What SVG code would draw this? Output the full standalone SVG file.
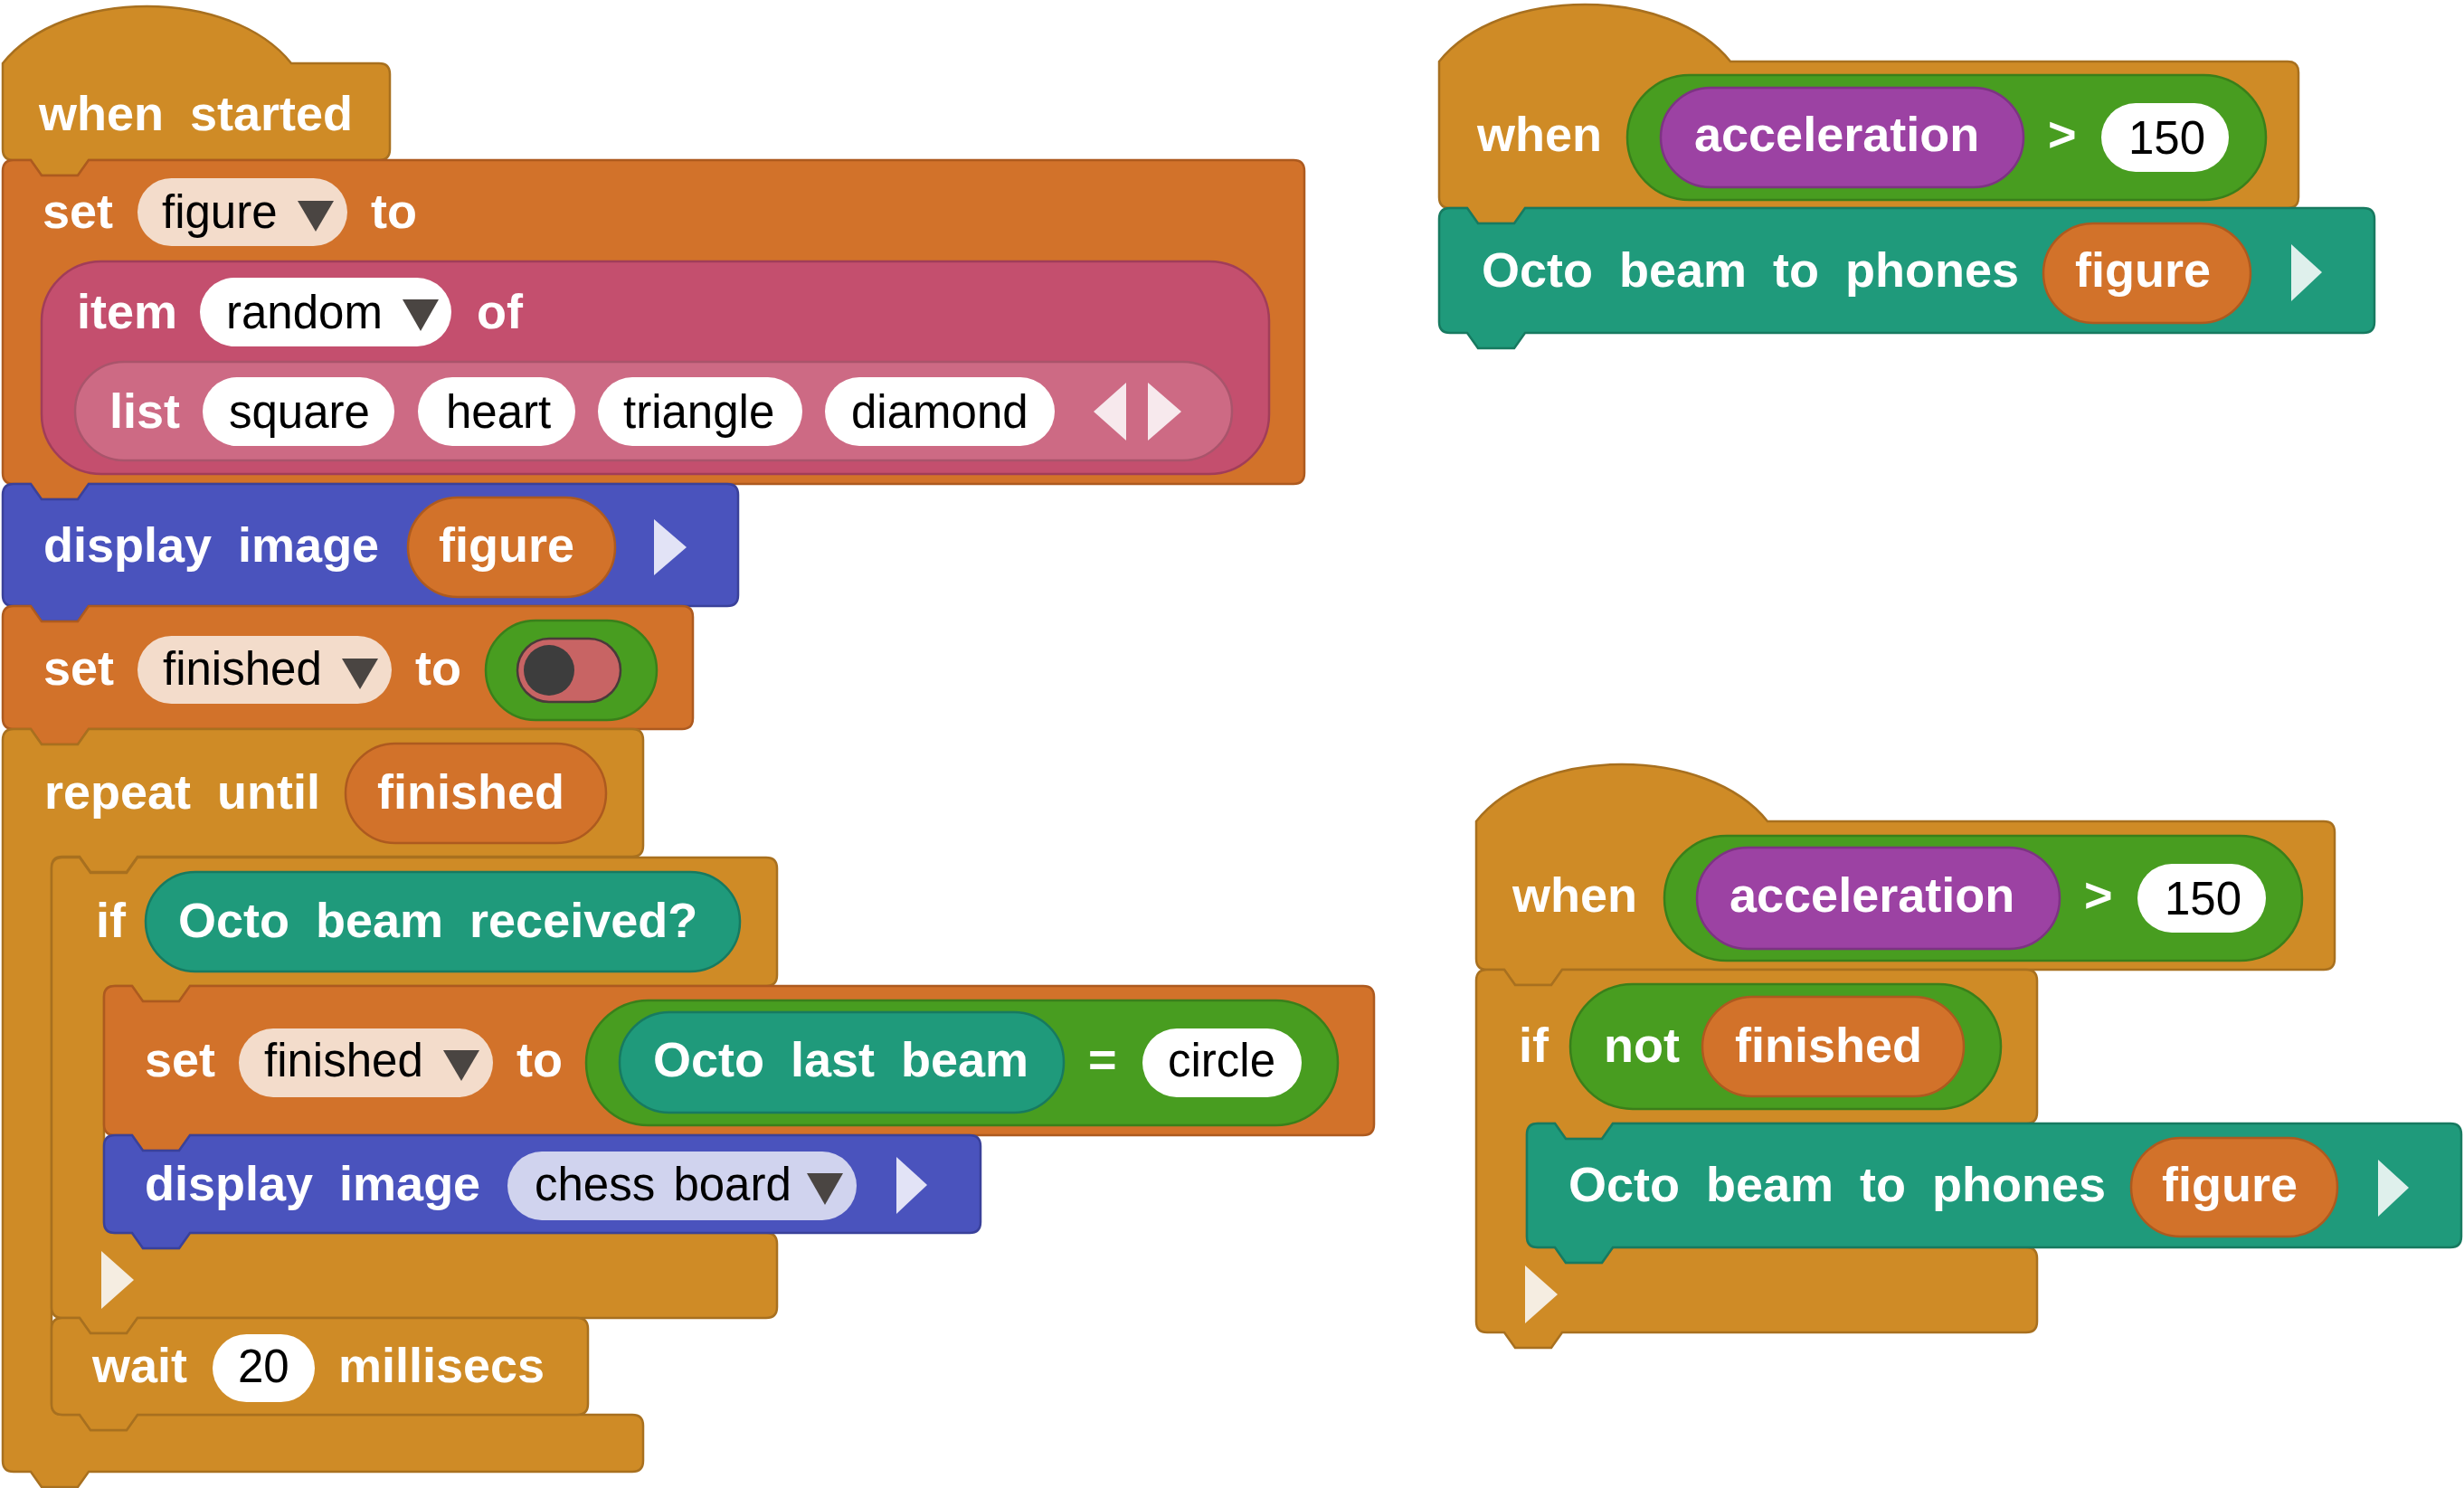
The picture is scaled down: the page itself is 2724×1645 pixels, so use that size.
<svg xmlns="http://www.w3.org/2000/svg" width="2724" height="1645" viewBox="0 0 2724 1645">
<style>
.gold{fill:#CF8B26;stroke:#A8701F;stroke-width:2.5}
.orange{fill:#D2722A;stroke:#AD5A1F;stroke-width:2.5}
.blue{fill:#4A53BD;stroke:#3A419A;stroke-width:2.5}
.teal{fill:#1F9A7B;stroke:#177A60;stroke-width:2.5}
.green{fill:#489D20;stroke:#3A7F1A;stroke-width:2.5}
.purple{fill:#9C42A3;stroke:#7D3383;stroke-width:2.5}
.pink{fill:#C44F6E;stroke:#A13D59;stroke-width:2.5}
.pinkl{fill:#CD6A84;stroke:#A9546B;stroke-width:2.5}
.white{fill:#FFFFFF}
.peach{fill:#F3DCCB}
.lav{fill:#D0D3EE}
.tri{fill:#4A4542}
.lbl{font-family:"Liberation Sans",Arial,sans-serif;font-weight:bold;font-size:54px;fill:#FFFFFF;word-spacing:14px}
.val{font-family:"Liberation Sans",Arial,sans-serif;font-size:51px;fill:#000000;word-spacing:6px}
</style>
<rect width="2724" height="1645" fill="#FFFFFF"/>
<g id="connectors"/>

<!-- Script 1 -->
<g id="when-started">
<path class="gold" d="M3,70 C70,-14 255,-14 322,70 H419 Q431,70 431,82 V165 Q431,177 419,177 H98 L86,194 H46 L34,177 H15 Q3,177 3,165 Z"/>
<text class="lbl" x="43" y="144">when started</text>
</g>

<g id="set-figure">
<path class="orange" d="M3,189 Q3,177 15,177 H34 L46,194 H86 L98,177 H1430 Q1442,177 1442,189 V523 Q1442,535 1430,535 H98 L86,552 H46 L34,535 H15 Q3,535 3,523 Z"/>
<text class="lbl" x="47" y="252">set</text>
<rect class="peach" x="152" y="197" width="232" height="75" rx="37.5"/>
<text class="val" x="179" y="252">figure</text>
<polygon class="tri" points="329,222 369,222 349,256"/>
<text class="lbl" x="410" y="252">to</text>
<rect class="pink" x="46" y="289" width="1357" height="235" rx="66"/>
<text class="lbl" x="85" y="363">item</text>
<rect class="white" x="221" y="307" width="278" height="76" rx="38"/>
<text class="val" x="250" y="363">random</text>
<polygon class="tri" points="445,331 485,331 465,366"/>
<text class="lbl" x="527" y="363">of</text>
<rect class="pinkl" x="83" y="400" width="1279" height="109" rx="54"/>
<text class="lbl" x="121" y="473">list</text>
<rect class="white" x="224" y="417" width="212" height="76" rx="38"/>
<text class="val" x="253" y="473">square</text>
<rect class="white" x="462" y="417" width="174" height="76" rx="38"/>
<text class="val" x="493" y="473">heart</text>
<rect class="white" x="661" y="417" width="226" height="76" rx="38"/>
<text class="val" x="689" y="473">triangle</text>
<rect class="white" x="912" y="417" width="254" height="76" rx="38"/>
<text class="val" x="941" y="473">diamond</text>
<polygon points="1245,423 1245,487 1209,455" fill="#F7E9ED"/>
<polygon points="1269,423 1269,487 1306,455" fill="#F7E9ED"/>
</g>

<g id="display-figure">
<path class="blue" d="M3,547 Q3,535 15,535 H34 L46,552 H86 L98,535 H804 Q816,535 816,547 V658 Q816,670 804,670 H98 L86,687 H46 L34,670 H15 Q3,670 3,658 Z"/>
<text class="lbl" x="48" y="621">display image</text>
<rect class="orange" x="451" y="550" width="229" height="110" rx="55"/>
<text class="lbl" x="485" y="621">figure</text>
<polygon points="723,574 723,636 759,605" fill="#E2E3F6"/>
</g>

<g id="set-finished-false">
<path class="orange" d="M3,682 Q3,670 15,670 H34 L46,687 H86 L98,670 H754 Q766,670 766,682 V794 Q766,806 754,806 H98 L86,823 H46 L34,806 H15 Q3,806 3,794 Z"/>
<text class="lbl" x="48" y="757">set</text>
<rect class="peach" x="152" y="703" width="281" height="75" rx="37.5"/>
<text class="val" x="180" y="757">finished</text>
<polygon class="tri" points="378,728 418,728 398,762"/>
<text class="lbl" x="459" y="757">to</text>
<rect class="green" x="537" y="686" width="189" height="110" rx="55"/>
<rect x="572" y="706" width="114" height="70" rx="35" fill="#C86464" stroke="#4A3A3A" stroke-width="2.5"/>
<circle cx="607" cy="741" r="28" fill="#3D3D3D"/>
</g>

<g id="repeat-until">
<path class="gold" d="M3,818 Q3,806 15,806 H34 L46,823 H86 L98,806 H699 Q711,806 711,818 V935 Q711,947 699,947 H152 L140,964 H100 L88,947 H69 Q57,947 57,959 V1552 Q57,1564 69,1564 H88 L100,1581 H140 L152,1564 H699 Q711,1564 711,1576 V1615 Q711,1627 699,1627 H98 L86,1644 H46 L34,1627 H15 Q3,1627 3,1615 Z"/>
<text class="lbl" x="49" y="894">repeat until</text>
<rect class="orange" x="382" y="822" width="288" height="110" rx="55"/>
<text class="lbl" x="417" y="894">finished</text>
</g>

<g id="if-received">
<path class="gold" d="M57,960 Q57,948 69,948 H88 L100,965 H140 L152,948 H847 Q859,948 859,960 V1078 Q859,1090 847,1090 H210 L198,1107 H158 L146,1090 H127 Q115,1090 115,1102 V1351 Q115,1363 127,1363 H146 L158,1380 H198 L210,1363 H847 Q859,1363 859,1375 V1445 Q859,1457 847,1457 H152 L140,1474 H100 L88,1457 H69 Q57,1457 57,1445 Z"/>
<text class="lbl" x="106" y="1036">if</text>
<rect class="teal" x="161" y="964" width="657" height="110" rx="55"/>
<text class="lbl" x="197" y="1036">Octo beam received?</text>
<polygon points="112,1383 112,1447 148,1415" fill="#F5EDE1"/>
</g>

<g id="set-finished-equals">
<path class="orange" d="M115,1102 Q115,1090 127,1090 H146 L158,1107 H198 L210,1090 H1507 Q1519,1090 1519,1102 V1243 Q1519,1255 1507,1255 H210 L198,1272 H158 L146,1255 H127 Q115,1255 115,1243 Z"/>
<text class="lbl" x="160" y="1190">set</text>
<rect class="peach" x="264" y="1137" width="281" height="76" rx="38"/>
<text class="val" x="292" y="1190">finished</text>
<polygon class="tri" points="490,1161 530,1161 510,1195"/>
<text class="lbl" x="571" y="1190">to</text>
<rect class="green" x="648" y="1106" width="831" height="138" rx="69"/>
<rect class="teal" x="685" y="1119" width="491" height="111" rx="55"/>
<text class="lbl" x="722" y="1190">Octo last beam</text>
<text class="lbl" x="1203" y="1190">=</text>
<rect class="white" x="1263" y="1137" width="176" height="76" rx="38"/>
<text class="val" x="1291" y="1190">circle</text>
</g>

<g id="display-chess">
<path class="blue" d="M115,1267 Q115,1255 127,1255 H146 L158,1272 H198 L210,1255 H1072 Q1084,1255 1084,1267 V1351 Q1084,1363 1072,1363 H210 L198,1380 H158 L146,1363 H127 Q115,1363 115,1351 Z"/>
<text class="lbl" x="160" y="1327">display image</text>
<rect class="lav" x="561" y="1273" width="386" height="76" rx="38"/>
<text class="val" x="591" y="1327">chess board</text>
<polygon class="tri" points="892,1297 932,1297 912,1332"/>
<polygon points="991,1279 991,1342 1025,1310" fill="#E2E3F6"/>
</g>

<g id="wait">
<path class="gold" d="M57,1469 Q57,1457 69,1457 H88 L100,1474 H140 L152,1457 H638 Q650,1457 650,1469 V1552 Q650,1564 638,1564 H152 L140,1581 H100 L88,1564 H69 Q57,1564 57,1552 Z"/>
<text class="lbl" x="102" y="1528">wait</text>
<rect class="white" x="235" y="1475" width="113" height="75" rx="37.5"/>
<text class="val" x="263" y="1528">20</text>
<text class="lbl" x="374" y="1528">millisecs</text>
</g>

<!-- Script 2 -->
<g id="when-accel-1">
<path class="gold" d="M1591,68 C1658,-16 1846,-16 1913,68 H2529 Q2541,68 2541,80 V218 Q2541,230 2529,230 H1686 L1674,247 H1634 L1622,230 H1603 Q1591,230 1591,218 Z"/>
<text class="lbl" x="1633" y="167">when</text>
<rect class="green" x="1799" y="83" width="706" height="138" rx="69"/>
<rect class="purple" x="1836" y="97" width="401" height="110" rx="55"/>
<text class="lbl" x="1873" y="167">acceleration</text>
<text class="lbl" x="2264" y="167">&gt;</text>
<rect class="white" x="2323" y="114" width="141" height="76" rx="38"/>
<text class="val" x="2353" y="170">150</text>
</g>

<g id="beam-phones-1">
<path class="teal" d="M1591,242 Q1591,230 1603,230 H1622 L1634,247 H1674 L1686,230 H2613 Q2625,230 2625,242 V356 Q2625,368 2613,368 H1686 L1674,385 H1634 L1622,368 H1603 Q1591,368 1591,356 Z"/>
<text class="lbl" x="1638" y="317">Octo beam to phones</text>
<rect class="orange" x="2259" y="247" width="229" height="110" rx="55"/>
<text class="lbl" x="2294" y="317">figure</text>
<polygon points="2533,270 2533,333 2567,301" fill="#DFF0EC"/>
</g>

<!-- Script 3 -->
<g id="when-accel-2">
<path class="gold" d="M1632,908 C1699,824 1887,824 1954,908 H2569 Q2581,908 2581,920 V1060 Q2581,1072 2569,1072 H1727 L1715,1089 H1675 L1663,1072 H1644 Q1632,1072 1632,1060 Z"/>
<text class="lbl" x="1672" y="1008">when</text>
<rect class="green" x="1840" y="924" width="705" height="138" rx="69"/>
<rect class="purple" x="1876" y="937" width="401" height="112" rx="56"/>
<text class="lbl" x="1912" y="1008">acceleration</text>
<text class="lbl" x="2304" y="1008">&gt;</text>
<rect class="white" x="2363" y="955" width="142" height="76" rx="38"/>
<text class="val" x="2393" y="1011">150</text>
</g>

<g id="if-not-finished">
<path class="gold" d="M1632,1084 Q1632,1072 1644,1072 H1663 L1675,1089 H1715 L1727,1072 H2240 Q2252,1072 2252,1084 V1230 Q2252,1242 2240,1242 H1783 L1771,1259 H1731 L1719,1242 H1700 Q1688,1242 1688,1254 V1367 Q1688,1379 1700,1379 H1719 L1731,1396 H1771 L1783,1379 H2240 Q2252,1379 2252,1391 V1461 Q2252,1473 2240,1473 H1727 L1715,1490 H1675 L1663,1473 H1644 Q1632,1473 1632,1461 Z"/>
<text class="lbl" x="1679" y="1174">if</text>
<rect class="green" x="1736" y="1088" width="476" height="138" rx="69"/>
<text class="lbl" x="1773" y="1174">not</text>
<rect class="orange" x="1882" y="1102" width="289" height="110" rx="55"/>
<text class="lbl" x="1918" y="1174">finished</text>
<polygon points="1686,1399 1686,1463 1722,1431" fill="#F5EDE1"/>
</g>

<g id="beam-phones-2">
<path class="teal" d="M1688,1254 Q1688,1242 1700,1242 H1719 L1731,1259 H1771 L1783,1242 H2709 Q2721,1242 2721,1254 V1367 Q2721,1379 2709,1379 H1783 L1771,1396 H1731 L1719,1379 H1700 Q1688,1379 1688,1367 Z"/>
<text class="lbl" x="1734" y="1328">Octo beam to phones</text>
<rect class="orange" x="2356" y="1258" width="228" height="109" rx="54.5"/>
<text class="lbl" x="2390" y="1328">figure</text>
<polygon points="2629,1282 2629,1345 2663,1313" fill="#DFF0EC"/>
</g>
</svg>
